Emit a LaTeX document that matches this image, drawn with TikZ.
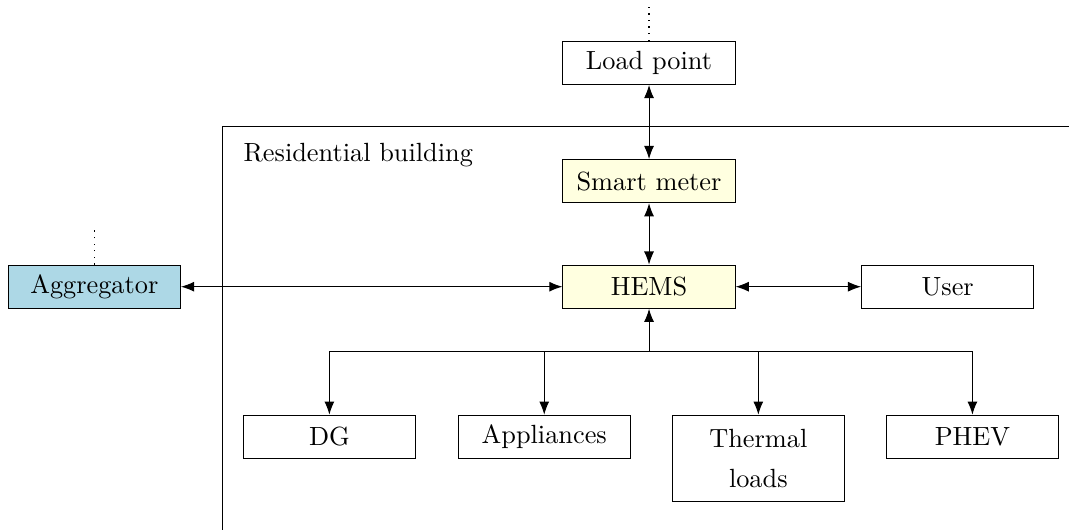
\documentclass[tikz,border=0pt]{standalone}
\usepackage{tikz}
\usetikzlibrary{positioning,calc,arrows.meta}
\definecolor{hemsc}{HTML}{FFFFE0}
\definecolor{aggc}{HTML}{ADD8E6}
\tikzset{
  unit/.style={draw, minimum width=2.3cm, minimum height=0.575cm, inner sep=1pt, align=center},
  link/.style={{Latex[length=5pt,width=3.8pt]}-{Latex[length=5pt,width=3.8pt]}},
  feed/.style={-{Latex[length=5pt,width=3.8pt]}},
}
\begin{document}
\begin{tikzpicture}
  \useasboundingbox (0,0) rectangle (14.28,7.08);
  % building outline
  \draw (2.97,0) -- (2.97,5.39) -- (14.28,5.39);
  \node[anchor=west] (bldg) at (3.13,5.01) {Residential building};
  % main chain
  \node[unit] (load) at (8.67,6.24) {Load point};
  \node[unit, fill=hemsc] (meter) at (8.67,4.66) {Smart meter};
  \node[unit, fill=hemsc] (hems) at (8.67,3.25) {HEMS};
  \node[unit] (user) at (12.66,3.25) {User};
  \node[unit, fill=aggc] (agg) at (1.26,3.25) {Aggregator};
  \coordinate (loadup) at (8.67,7.02);
  \coordinate (aggup) at (1.26,4.01);
  \draw[dotted, line width=0.5pt] (load.north) -- (loadup);
  \draw[dotted, line width=0.5pt] (agg.north) -- (aggup);
  \draw[link] (load) -- (meter);
  \draw[link] (meter) -- (hems);
  \draw[link] (hems) -- (user);
  \draw[link] (agg) -- (hems);
  % devices
  \foreach \nm/\tx/\px/\hgt in {dg/DG/4.40/0.575, app/Appliances/7.27/0.575,
      th/{Thermal\\[3pt]loads}/10.13/1.15, phev/PHEV/12.99/0.575}{
    \node[unit, anchor=north, minimum height=\hgt cm] (\nm) at (\px,1.54) {\tx};
    \coordinate (bus-\nm) at (\px,2.39);}
  \coordinate (hub) at (8.67,2.39);
  \draw (bus-dg) -- (bus-phev);
  \draw[feed] (hub) -- (hems);
  \foreach \nm in {dg,app,th,phev}
    \draw[feed] (bus-\nm) -- (\nm);
\end{tikzpicture}
\end{document}
